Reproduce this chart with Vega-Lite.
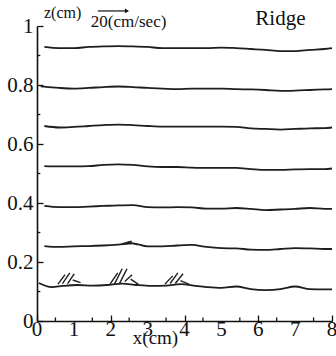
{
  "$schema": "https://vega.github.io/schema/vega-lite/v6.json",
  "width": 295,
  "height": 295,
  "autosize": "none",
  "padding": {"left": 37, "top": 26, "right": 4, "bottom": 35},
  "background": "white",
  "config": {
    "view": {"stroke": null},
    "font": "Liberation Serif",
    "axis": {"labelOverlap": false, "ticks": true}
  },
  "datasets": {
    "rows": [
      {"r":1,"x":0.2,"z":0.929},{"r":1,"x":0.6,"z":0.925},{"r":1,"x":1.0,"z":0.925},{"r":1,"x":1.4,"z":0.929},{"r":1,"x":1.8,"z":0.931},{"r":1,"x":2.2,"z":0.932},{"r":1,"x":2.6,"z":0.931},{"r":1,"x":3.0,"z":0.929},{"r":1,"x":3.4,"z":0.925},{"r":1,"x":3.8,"z":0.925},{"r":1,"x":4.2,"z":0.925},{"r":1,"x":4.6,"z":0.925},{"r":1,"x":5.0,"z":0.927},{"r":1,"x":5.4,"z":0.925},{"r":1,"x":5.8,"z":0.922},{"r":1,"x":6.2,"z":0.919},{"r":1,"x":6.6,"z":0.915},{"r":1,"x":7.0,"z":0.915},{"r":1,"x":7.4,"z":0.919},{"r":1,"x":7.8,"z":0.922},{"r":1,"x":8.0,"z":0.925},
      {"r":2,"x":0.1,"z":0.795},{"r":2,"x":0.6,"z":0.790},{"r":2,"x":1.0,"z":0.788},{"r":2,"x":1.4,"z":0.790},{"r":2,"x":1.8,"z":0.793},{"r":2,"x":2.2,"z":0.795},{"r":2,"x":2.6,"z":0.793},{"r":2,"x":3.0,"z":0.790},{"r":2,"x":3.4,"z":0.788},{"r":2,"x":3.8,"z":0.786},{"r":2,"x":4.2,"z":0.788},{"r":2,"x":4.6,"z":0.788},{"r":2,"x":5.0,"z":0.788},{"r":2,"x":5.4,"z":0.786},{"r":2,"x":5.8,"z":0.785},{"r":2,"x":6.2,"z":0.783},{"r":2,"x":6.6,"z":0.780},{"r":2,"x":7.0,"z":0.781},{"r":2,"x":7.4,"z":0.783},{"r":2,"x":7.8,"z":0.785},{"r":2,"x":8.0,"z":0.786},
      {"r":3,"x":0.2,"z":0.661},{"r":3,"x":0.6,"z":0.656},{"r":3,"x":1.0,"z":0.658},{"r":3,"x":1.4,"z":0.661},{"r":3,"x":1.8,"z":0.664},{"r":3,"x":2.2,"z":0.666},{"r":3,"x":2.6,"z":0.664},{"r":3,"x":3.0,"z":0.661},{"r":3,"x":3.4,"z":0.659},{"r":3,"x":3.8,"z":0.659},{"r":3,"x":4.2,"z":0.659},{"r":3,"x":4.6,"z":0.659},{"r":3,"x":5.0,"z":0.659},{"r":3,"x":5.4,"z":0.658},{"r":3,"x":5.8,"z":0.653},{"r":3,"x":6.2,"z":0.651},{"r":3,"x":6.6,"z":0.649},{"r":3,"x":7.0,"z":0.651},{"r":3,"x":7.4,"z":0.653},{"r":3,"x":7.8,"z":0.654},{"r":3,"x":8.0,"z":0.656},
      {"r":4,"x":0.2,"z":0.525},{"r":4,"x":0.6,"z":0.524},{"r":4,"x":1.0,"z":0.524},{"r":4,"x":1.4,"z":0.525},{"r":4,"x":1.8,"z":0.529},{"r":4,"x":2.2,"z":0.531},{"r":4,"x":2.6,"z":0.529},{"r":4,"x":3.0,"z":0.524},{"r":4,"x":3.4,"z":0.522},{"r":4,"x":3.8,"z":0.522},{"r":4,"x":4.2,"z":0.520},{"r":4,"x":4.6,"z":0.519},{"r":4,"x":5.0,"z":0.519},{"r":4,"x":5.4,"z":0.519},{"r":4,"x":5.8,"z":0.515},{"r":4,"x":6.2,"z":0.512},{"r":4,"x":6.6,"z":0.512},{"r":4,"x":7.0,"z":0.514},{"r":4,"x":7.4,"z":0.515},{"r":4,"x":7.8,"z":0.515},{"r":4,"x":8.0,"z":0.517},
      {"r":5,"x":0.2,"z":0.390},{"r":5,"x":0.6,"z":0.386},{"r":5,"x":1.0,"z":0.386},{"r":5,"x":1.4,"z":0.388},{"r":5,"x":1.8,"z":0.390},{"r":5,"x":2.2,"z":0.392},{"r":5,"x":2.6,"z":0.393},{"r":5,"x":3.0,"z":0.386},{"r":5,"x":3.4,"z":0.385},{"r":5,"x":3.8,"z":0.386},{"r":5,"x":4.2,"z":0.385},{"r":5,"x":4.6,"z":0.381},{"r":5,"x":5.0,"z":0.381},{"r":5,"x":5.4,"z":0.383},{"r":5,"x":5.8,"z":0.380},{"r":5,"x":6.2,"z":0.376},{"r":5,"x":6.6,"z":0.378},{"r":5,"x":7.0,"z":0.380},{"r":5,"x":7.4,"z":0.383},{"r":5,"x":7.8,"z":0.380},{"r":5,"x":8.0,"z":0.380},
      {"r":6,"x":0.2,"z":0.254},{"r":6,"x":0.6,"z":0.251},{"r":6,"x":1.0,"z":0.253},{"r":6,"x":1.4,"z":0.254},{"r":6,"x":1.8,"z":0.256},{"r":6,"x":2.2,"z":0.259},{"r":6,"x":2.6,"z":0.263},{"r":6,"x":3.0,"z":0.253},{"r":6,"x":3.4,"z":0.253},{"r":6,"x":3.8,"z":0.256},{"r":6,"x":4.2,"z":0.258},{"r":6,"x":4.6,"z":0.251},{"r":6,"x":5.0,"z":0.247},{"r":6,"x":5.4,"z":0.246},{"r":6,"x":5.8,"z":0.242},{"r":6,"x":6.2,"z":0.241},{"r":6,"x":6.6,"z":0.244},{"r":6,"x":7.0,"z":0.247},{"r":6,"x":7.4,"z":0.246},{"r":6,"x":7.8,"z":0.244},{"r":6,"x":8.0,"z":0.244},
      {"r":7,"x":0.05,"z":0.129},{"r":7,"x":0.4,"z":0.115},{"r":7,"x":0.7,"z":0.119},{"r":7,"x":1.1,"z":0.122},{"r":7,"x":1.5,"z":0.120},{"r":7,"x":1.9,"z":0.122},{"r":7,"x":2.3,"z":0.127},{"r":7,"x":2.7,"z":0.122},{"r":7,"x":3.1,"z":0.119},{"r":7,"x":3.5,"z":0.120},{"r":7,"x":3.9,"z":0.125},{"r":7,"x":4.3,"z":0.119},{"r":7,"x":4.6,"z":0.115},{"r":7,"x":5.0,"z":0.112},{"r":7,"x":5.4,"z":0.117},{"r":7,"x":5.8,"z":0.108},{"r":7,"x":6.2,"z":0.105},{"r":7,"x":6.6,"z":0.108},{"r":7,"x":7.0,"z":0.117},{"r":7,"x":7.4,"z":0.108},{"r":7,"x":7.8,"z":0.107},{"r":7,"x":8.0,"z":0.107}
    ],
    "vectors": [
      {"x":0.57,"z":0.125,"x2":0.76,"z2":0.157},
      {"x":0.69,"z":0.127,"x2":0.89,"z2":0.163},
      {"x":0.83,"z":0.127,"x2":1.01,"z2":0.160},
      {"x":0.97,"z":0.139,"x2":1.18,"z2":0.130},
      {"x":1.98,"z":0.125,"x2":2.19,"z2":0.163},
      {"x":2.10,"z":0.125,"x2":2.31,"z2":0.177},
      {"x":2.23,"z":0.125,"x2":2.44,"z2":0.177},
      {"x":2.38,"z":0.134,"x2":2.58,"z2":0.157},
      {"x":2.54,"z":0.142,"x2":2.75,"z2":0.124},
      {"x":3.47,"z":0.125,"x2":3.68,"z2":0.153},
      {"x":3.61,"z":0.127,"x2":3.82,"z2":0.163},
      {"x":3.75,"z":0.127,"x2":3.96,"z2":0.160},
      {"x":3.89,"z":0.137,"x2":4.13,"z2":0.124},
      {"x":2.30,"z":0.261,"x2":2.57,"z2":0.271},
      {"x":2.46,"z":0.268,"x2":2.73,"z2":0.258}
    ],
    "xlabels": [{"x":0,"t":"0"},{"x":1,"t":"1"},{"x":2,"t":"2"},{"x":3,"t":"3"},{"x":4,"t":"4"},{"x":5,"t":"5"},{"x":6,"t":"6"},{"x":7,"t":"7"},{"x":8,"t":"8"}],
    "minorX": [{"x":0.5},{"x":1.5},{"x":2.5},{"x":3.5},{"x":4.5},{"x":5.5},{"x":6.5},{"x":7.5}],
    "minorZ": [{"z":0.1},{"z":0.3},{"z":0.5},{"z":0.7},{"z":0.9}]
  },
  "layer": [
    {
      "data": {"name": "rows"},
      "mark": {"type": "line", "color": "#1e1e1e", "strokeWidth": 1.8, "interpolate": "monotone"},
      "encoding": {
        "x": {
          "field": "x", "type": "quantitative",
          "scale": {"domain": [0, 8], "nice": false, "zero": false},
          "axis": {
            "values": [0,1,2,3,4,5,6,7,8],
            "labels": false,
            "tickSize": -6,
            "ticks": true,
            "grid": false,
            "domainColor": "#111", "domainWidth": 1.6,
            "tickColor": "#111", "tickWidth": 1.3,
            "title": "x(cm)", "titleFont": "Liberation Serif", "titleFontSize": 19,
            "titleFontWeight": "normal", "titleColor": "#111",
            "titleX": 118, "titleY": 22, "titleBaseline": "alphabetic", "titleAlign": "center"
          }
        },
        "y": {
          "field": "z", "type": "quantitative",
          "scale": {"domain": [0, 1], "nice": false, "zero": false},
          "axis": {
            "values": [0,0.2,0.4,0.6,0.8,1],
            "format": "~g",
            "tickSize": -6,
            "ticks": true,
            "grid": false,
            "domainColor": "#111", "domainWidth": 1.6,
            "tickColor": "#111", "tickWidth": 1.3,
            "labelFont": "Liberation Serif", "labelFontSize": 21, "labelColor": "#111",
            "labelPadding": 10, "labelFlush": false, "labelOverlap": false, "labelBound": false,
            "title": null
          }
        },
        "detail": {"field": "r", "type": "nominal"}
      }
    },
    {
      "data": {"name": "vectors"},
      "mark": {"type": "rule", "color": "#1e1e1e", "strokeWidth": 1.4},
      "encoding": {
        "x": {"field": "x", "type": "quantitative"},
        "y": {"field": "z", "type": "quantitative"},
        "x2": {"field": "x2"},
        "y2": {"field": "z2"}
      }
    },
    {
      "data": {"name": "xlabels"},
      "mark": {"type": "text", "font": "Liberation Serif", "fontSize": 21, "align": "center", "baseline": "alphabetic", "color": "#111"},
      "encoding": {
        "x": {"field": "x", "type": "quantitative"},
        "y": {"datum": -0.052},
        "text": {"field": "t"}
      }
    },
    {
      "data": {"name": "minorX"},
      "mark": {"type": "rule", "color": "#111", "strokeWidth": 1.3},
      "encoding": {
        "x": {"field": "x", "type": "quantitative"},
        "y": {"datum": 0},
        "y2": {"datum": 0.012}
      }
    },
    {
      "data": {"name": "minorZ"},
      "mark": {"type": "rule", "color": "#111", "strokeWidth": 1.3},
      "encoding": {
        "y": {"field": "z", "type": "quantitative"},
        "x": {"datum": 0},
        "x2": {"datum": 0.09}
      }
    },
    {
      "data": {"values": [{}]},
      "mark": {"type": "text", "text": "z(cm)", "font": "Liberation Serif", "fontSize": 16, "align": "left", "baseline": "alphabetic", "color": "#111"},
      "encoding": {"x": {"datum": 0.19}, "y": {"datum": 1.027}}
    },
    {
      "data": {"values": [{}]},
      "mark": {"type": "text", "text": "20(cm/sec)", "font": "Liberation Serif", "fontSize": 17, "align": "left", "baseline": "alphabetic", "color": "#111"},
      "encoding": {"x": {"datum": 1.46}, "y": {"datum": 0.997}}
    },
    {
      "data": {"values": [{}]},
      "mark": {"type": "rule", "color": "#111", "strokeWidth": 1.2},
      "encoding": {"x": {"datum": 1.65}, "x2": {"datum": 2.45}, "y": {"datum": 1.051}}
    },
    {
      "data": {"values": [{}]},
      "mark": {"type": "point", "shape": "triangle-right", "filled": true, "size": 22, "color": "#111", "opacity": 1},
      "encoding": {"x": {"datum": 2.44}, "y": {"datum": 1.051}}
    },
    {
      "data": {"values": [{}]},
      "mark": {"type": "text", "text": "Ridge", "font": "Liberation Serif", "fontSize": 21, "align": "left", "baseline": "alphabetic", "color": "#111"},
      "encoding": {"x": {"datum": 5.92}, "y": {"datum": 1.003}}
    }
  ]
}
